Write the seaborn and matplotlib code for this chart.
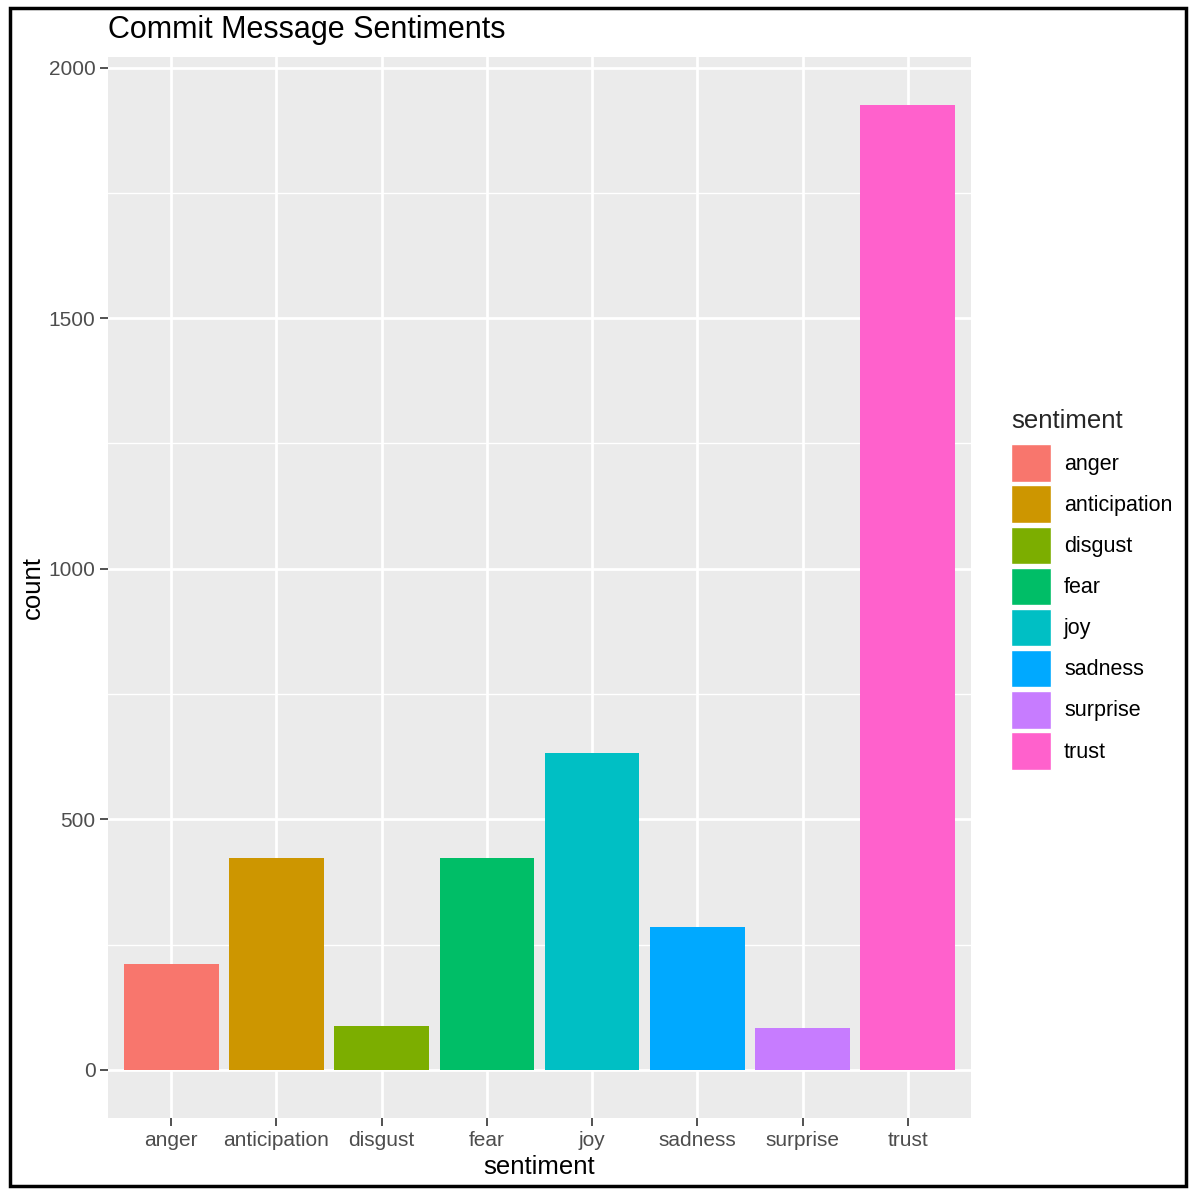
import matplotlib
matplotlib.use("Agg")
import matplotlib.pyplot as plt
import seaborn as sns
import pandas as pd
from matplotlib.patches import Patch, Rectangle
from matplotlib.ticker import MultipleLocator

sentiments = ["anger", "anticipation", "disgust", "fear", "joy", "sadness", "surprise", "trust"]
counts = [212, 423, 87, 422, 633, 285, 84, 1925]
colors = ["#F8766D", "#CD9600", "#7CAE00", "#00BE67", "#00BFC4", "#00A9FF", "#C77CFF", "#FF61CC"]
y_ticks = [0, 500, 1000, 1500, 2000]

df = pd.DataFrame({"sentiment": sentiments, "count": counts})
palette = dict(zip(sentiments, colors))

sns.set_theme(style="darkgrid")
plt.rcParams["font.family"] = ["Liberation Sans", "DejaVu Sans"]

fig = plt.figure(figsize=(11.96, 11.98), dpi=100)
ax = fig.add_axes([108/1196, 1-1118/1198, (971-108)/1196, (1118-57)/1198])
ax.set_facecolor("#EBEBEB")

sns.barplot(data=df, x="sentiment", y="count", hue="sentiment", palette=palette,
            order=sentiments, hue_order=sentiments, width=0.9, dodge=False,
            legend=False, saturation=1, ax=ax, edgecolor="none", linewidth=0)

ax.set_xlim(-0.6, len(sentiments) - 1 + 0.6)
ax.set_ylim(-96, 2021)
ax.set_yticks(y_ticks)
ax.yaxis.set_minor_locator(MultipleLocator(250))
ax.grid(which="major", color="white", linewidth=2.0)
ax.grid(which="minor", axis="y", color="white", linewidth=1.0)
ax.grid(which="minor", axis="x", visible=False)
ax.set_axisbelow(True)
for s in ax.spines.values():
    s.set_visible(False)

ax.tick_params(axis="both", which="major", length=6, width=1.2, color="#333333",
               labelcolor="#4D4D4D", labelsize=15, pad=3, bottom=True, left=True)
ax.tick_params(axis="y", which="minor", length=0)

ax.set_xlabel("sentiment", fontsize=18.5, color="black", labelpad=4)
ax.set_ylabel("count", fontsize=18.5, color="black", labelpad=3)

ax.text(0.0, 1.0 + 12/1061, "Commit Message Sentiments", transform=ax.transAxes,
        fontsize=22, color="black", ha="left", va="bottom")

handles = [Patch(facecolor=c, edgecolor="white", linewidth=1.0) for c in colors]
leg = fig.legend(handles, sentiments, title="sentiment", loc="upper left",
                 bbox_to_anchor=(994/1196, 1-392/1198), frameon=False,
                 fontsize=15.5, title_fontsize=18.5, handlelength=1.85, handleheight=2.3,
                 labelspacing=0.17, handletextpad=0.6, borderpad=0.3)
leg._legend_box.align = "left"
leg._legend_box.sep = 8
for t in leg.get_texts():
    t.set_color("black")

fig.patches.append(Rectangle((10/1196, 1-1186/1198), 1176/1196, 1178/1198,
                             transform=fig.transFigure, fill=False,
                             edgecolor="black", linewidth=2.5))

fig.savefig("out.png", dpi=100, facecolor="white")
